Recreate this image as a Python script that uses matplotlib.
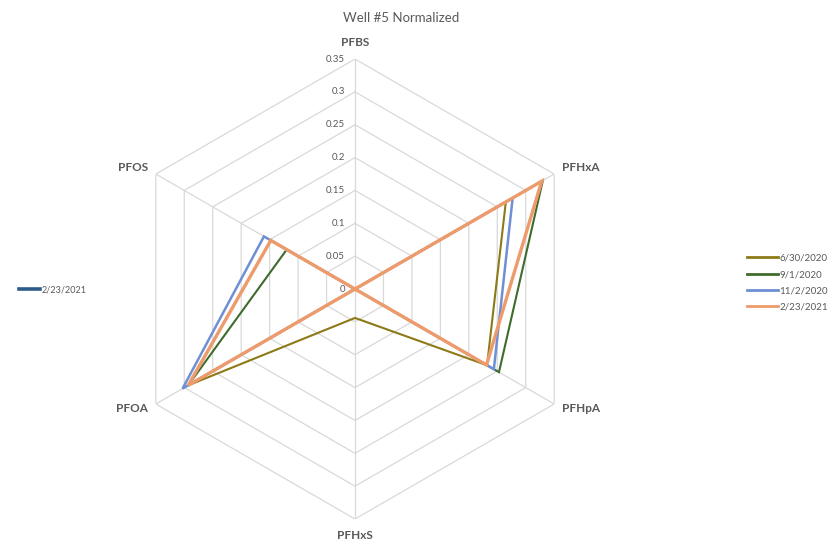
import numpy as np
import matplotlib
matplotlib.use("Agg")
import matplotlib.pyplot as plt
from matplotlib.lines import Line2D
from matplotlib.transforms import offset_copy

plt.rcParams['font.family'] = ['Lato', 'DejaVu Sans']

categories = ["PFBS", "PFHxA", "PFHpA", "PFHxS", "PFOA", "PFOS"]
series_names = ["6/30/2020", "9/1/2020", "11/2/2020", "2/23/2021"]
vals_0630_2020 = [0.0, 0.265, 0.232, 0.044, 0.293, 0.148]
vals_0901_2020 = [0.0, 0.330, 0.253, 0.0, 0.293, 0.120]
vals_1102_2020 = [0.0, 0.277, 0.244, 0.0, 0.303, 0.160]
vals_0223_2021 = [0.0, 0.328, 0.231, 0.0, 0.293, 0.148]
ring_values = [0, 0.05, 0.1, 0.15, 0.2, 0.25, 0.3, 0.35]
ring_labels = ["0", "0.05", "0.1", "0.15", "0.2", "0.25", "0.3", "0.35"]

colors = ["#8C7A16", "#3F6B2C", "#6E8FD5", "#EE9B6C"]
widths = [1.5, 1.5, 1.8, 2.4]

fig = plt.figure(figsize=(8.35, 5.49), dpi=100)
ax = fig.add_axes([0.1497, 0.0546, 0.5509, 0.8379], projection='polar')
ax.set_theta_offset(np.pi / 2)
ax.set_theta_direction(-1)
ax.set_ylim(0, 0.35)
ax.grid(False)
ax.spines['polar'].set_visible(False)
ax.set_xticks([])
ax.set_yticks([])
ax.patch.set_alpha(0)

n = len(categories)
angles = np.linspace(0, 2 * np.pi, n, endpoint=False)
closed = np.concatenate([angles, angles[:1]])

grid_col = "#D9D9D9"
for r in ring_values[1:]:
    ax.plot(closed, [r] * (n + 1), color=grid_col, lw=0.9, zorder=1)
for a in angles:
    ax.plot([a, a], [0, 0.35], color=grid_col, lw=0.9, zorder=1)

all_vals = [vals_0630_2020, vals_0901_2020, vals_1102_2020, vals_0223_2021]
for vals, c, w, name in zip(all_vals, colors, widths, series_names):
    v = list(vals) + [vals[0]]
    ax.plot(closed, v, color=c, lw=w, zorder=3, label=name, solid_joinstyle='miter')

# radial value labels along the top spoke
lab_tr = offset_copy(ax.transData, fig=fig, x=-10, y=0, units='dots')
for r, t in zip(ring_values, ring_labels):
    ax.text(0, r, t, transform=lab_tr, ha='right', va='center',
            fontsize=7, color="#595959", zorder=4)

# category labels, offset in pixels from the outer ring vertices
label_offsets = {
    "PFBS": (0, 17, 'center'),
    "PFHxA": (8, 7, 'left'),
    "PFHpA": (8, -4, 'left'),
    "PFHxS": (0, -16, 'center'),
    "PFOA": (-8, -4, 'right'),
    "PFOS": (-8, 7, 'right'),
}
for a, cat in zip(angles, categories):
    dx, dy, ha = label_offsets[cat]
    tr = offset_copy(ax.transData, fig=fig, x=dx, y=dy, units='dots')
    ax.text(a, 0.35, cat, transform=tr, ha=ha, va='center', fontsize=8.5,
            fontweight='bold', color="#595959")

fig.text(0.48, 0.968, "Well #5 Normalized", ha='center', va='center',
         fontsize=9.5, color="#595959")

handles = [Line2D([], [], color=c, lw=2) for c in colors]
fig.legend(handles, series_names, loc='center left', bbox_to_anchor=(0.89, 0.485),
           frameon=False, fontsize=7, handlelength=3.2, handletextpad=0.1,
           labelspacing=0.75, labelcolor="#595959", borderaxespad=0)

fig.legend([Line2D([], [], color="#2B5C8A", lw=2.6)], ["2/23/2021"],
           loc='center left', bbox_to_anchor=(0.018, 0.472), frameon=False,
           fontsize=6.5, handlelength=2.4, handletextpad=0.1,
           labelcolor="#595959", borderaxespad=0)

fig.savefig("out.png", dpi=100)
